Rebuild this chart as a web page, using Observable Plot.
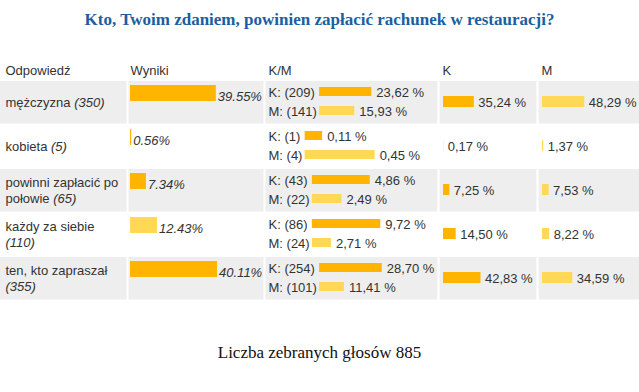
<!DOCTYPE html>
<html><head><meta charset="utf-8">
<script src="https://cdn.jsdelivr.net/npm/d3@7"></script>
<script src="https://cdn.jsdelivr.net/npm/@observablehq/plot@0.6"></script>
<style>
body{margin:0;background:#fff;width:639px;overflow:hidden}
#title{height:42px;font:bold 17px 'Liberation Serif','Times New Roman',serif;line-height:40px;text-align:center;color:#1c5e9e}
#chart svg{display:block}
#caption{height:82px;font:17px 'Liberation Serif','Times New Roman',serif;line-height:86px;text-align:center;color:#111}
</style></head><body>
<div id="title">Kto, Twoim zdaniem, powinien zapłacić rachunek w restauracji?</div>
<div id="chart"></div>
<div id="caption">Liczba zebranych głosów 885</div>
<script>
// ---- data ----
const headers = ["Odpowiedź", "Wyniki", "K/M", "K", "M"];
const answers = ["mężczyzna", "kobieta", "powinni zapłacić po połowie", "każdy za siebie", "ten, kto zapraszał"];
const votes = [350, 5, 65, 110, 355];
const results = [39.55, 0.56, 7.34, 12.43, 40.11];       // % of all votes
const resultTone = ["K", "K", "K", "M", "K"];             // bar colour group
const kCount = [209, 1, 43, 86, 254];
const mCount = [141, 4, 22, 24, 101];
const kOfTotal = [23.62, 0.11, 4.86, 9.72, 28.70];
const mOfTotal = [15.93, 0.45, 2.49, 2.71, 11.41];
const kShare = [35.24, 0.17, 7.25, 14.50, 42.83];
const mShare = [48.29, 1.37, 7.53, 8.22, 34.59];

// ---- layout ----
const W = 639, H = 268, ROW = 44, TOP = 39;
const col = {ans: 5, res: 130, km: 268, k: 443, m: 542};
const headerX = [5, 130, 268, 442, 541];
const seps = [127, 264, 438, 537];
const PX_RES = 2.17, PX_SHARE = 0.875;
const FONT = "'Liberation Sans', Arial, sans-serif";
const TXT = "#333";

const ctx = document.createElement("canvas").getContext("2d");
function tw(s, italic) { ctx.font = `${italic ? "italic " : ""}13px ${FONT}`; return ctx.measureText(s).width; }
const fmt = v => v.toFixed(2).replace(".", ",") + " %";

const rows = answers.map((a, i) => {
  const lw = Math.max(tw(`K: (${kCount[i]})`), tw(`M: (${mCount[i]})`));
  const bs = col.km + lw + 2.7;
  return {
    answer: a, i, votes: votes[i], result: results[i], tone: resultTone[i],
    k: kCount[i], m: mCount[i], kTot: kOfTotal[i], mTot: mOfTotal[i],
    kSh: kShare[i], mSh: mShare[i], barStart: bs,
    kEnd: bs + kCount[i] / votes[i] * 100 * PX_SHARE,
    mEnd: bs + mCount[i] / votes[i] * 100 * PX_SHARE
  };
});

// wrap first-column labels (words + italic count)
const maxW = 116, LH = 16;
const pieces = [];
rows.forEach(r => {
  const toks = r.answer.split(" ").map(t => ({t, it: false})).concat([{t: `(${r.votes})`, it: true}]);
  const lines = [[]]; let cur = 0;
  toks.forEach(tok => {
    const w = tw(tok.t, tok.it);
    const sp = lines[lines.length - 1].length ? tw(" ") : 0;
    if (cur + sp + w > maxW && lines[lines.length - 1].length) { lines.push([tok]); cur = w; }
    else { lines[lines.length - 1].push(tok); cur += sp + w; }
  });
  lines.forEach((ln, li) => {
    let x = col.ans;
    const groups = [];
    ln.forEach(tok => {
      const g = groups[groups.length - 1];
      if (g && g.it === tok.it) g.t += " " + tok.t;
      else { if (g) g.t += " "; groups.push({t: tok.t, it: tok.it}); }
    });
    groups.forEach(g => {
      pieces.push({answer: r.answer, text: g.t, it: g.it, x, dy: (li - (lines.length - 1) / 2) * LH});
      x += tw(g.t, g.it);
    });
  });
});

const even = rows.filter(d => d.i % 2 === 0);

const chart = Plot.plot({
  width: W, height: H,
  margin: 0,
  style: {fontFamily: FONT, fontSize: "13px", background: "#fff"},
  x: {type: "linear", domain: [0, W], range: [0, W], axis: null},
  y: {type: "band", domain: answers, range: [TOP, TOP + answers.length * ROW], padding: 0, axis: null},
  color: {domain: ["K", "M"], range: ["#ffb400", "#ffd955"]},
  marks: [
    Plot.barX(even, {y: "answer", x1: 0, x2: W, fill: "#eeeeee", insetBottom: 1.5}),
    Plot.ruleX(seps, {x: d => d, stroke: "#fff", strokeWidth: 2}),
    // header
    Plot.text(headers, {x: (d, i) => headerX[i], text: d => d, frameAnchor: "top", lineAnchor: "middle", dy: 28, textAnchor: "start", fill: TXT}),
    // first column
    ...pieces.map(p => Plot.text([p], {y: "answer", x: "x", text: "text", dy: p.dy - 0.5, textAnchor: "start", fill: TXT, fontStyle: p.it ? "italic" : "normal"})),
    // Wyniki
    Plot.barX(rows, {y: "answer", x1: col.res, x2: d => col.res + d.result * PX_RES, fill: "tone", insetTop: 4, insetBottom: 24}),
    Plot.text(rows, {y: "answer", x: d => col.res + d.result * PX_RES + 1.5, text: d => d.result.toFixed(2) + "%", textAnchor: "start", fontStyle: "italic", dy: -6.5, fill: TXT}),
    // K/M
    Plot.text(rows, {y: "answer", x: col.km, text: d => `K: (${d.k})`, textAnchor: "start", dy: -11, fill: TXT}),
    Plot.text(rows, {y: "answer", x: col.km, text: d => `M: (${d.m})`, textAnchor: "start", dy: 8, fill: TXT}),
    Plot.barX(rows, {y: "answer", x1: "barStart", x2: "kEnd", fill: () => "K", insetTop: 6, insetBottom: 29}),
    Plot.barX(rows, {y: "answer", x1: "barStart", x2: "mEnd", fill: () => "M", insetTop: 25, insetBottom: 10}),
    Plot.text(rows, {y: "answer", x: d => d.kEnd + 4.5, text: d => fmt(d.kTot), textAnchor: "start", dy: -11, fill: TXT}),
    Plot.text(rows, {y: "answer", x: d => d.mEnd + 4.5, text: d => fmt(d.mTot), textAnchor: "start", dy: 8, fill: TXT}),
    // K column
    Plot.barX(rows, {y: "answer", x1: col.k, x2: d => col.k + d.kSh * PX_SHARE, fill: () => "K", insetTop: 15, insetBottom: 18}),
    Plot.text(rows, {y: "answer", x: d => col.k + d.kSh * PX_SHARE + 4, text: d => fmt(d.kSh), textAnchor: "start", dy: -1, fill: TXT}),
    // M column
    Plot.barX(rows, {y: "answer", x1: col.m, x2: d => col.m + d.mSh * PX_SHARE, fill: () => "M", insetTop: 15, insetBottom: 18}),
    Plot.text(rows, {y: "answer", x: d => col.m + d.mSh * PX_SHARE + 4, text: d => fmt(d.mSh), textAnchor: "start", dy: -1, fill: TXT})
  ]
});
document.getElementById("chart").appendChild(chart);
</script>
</body></html>
